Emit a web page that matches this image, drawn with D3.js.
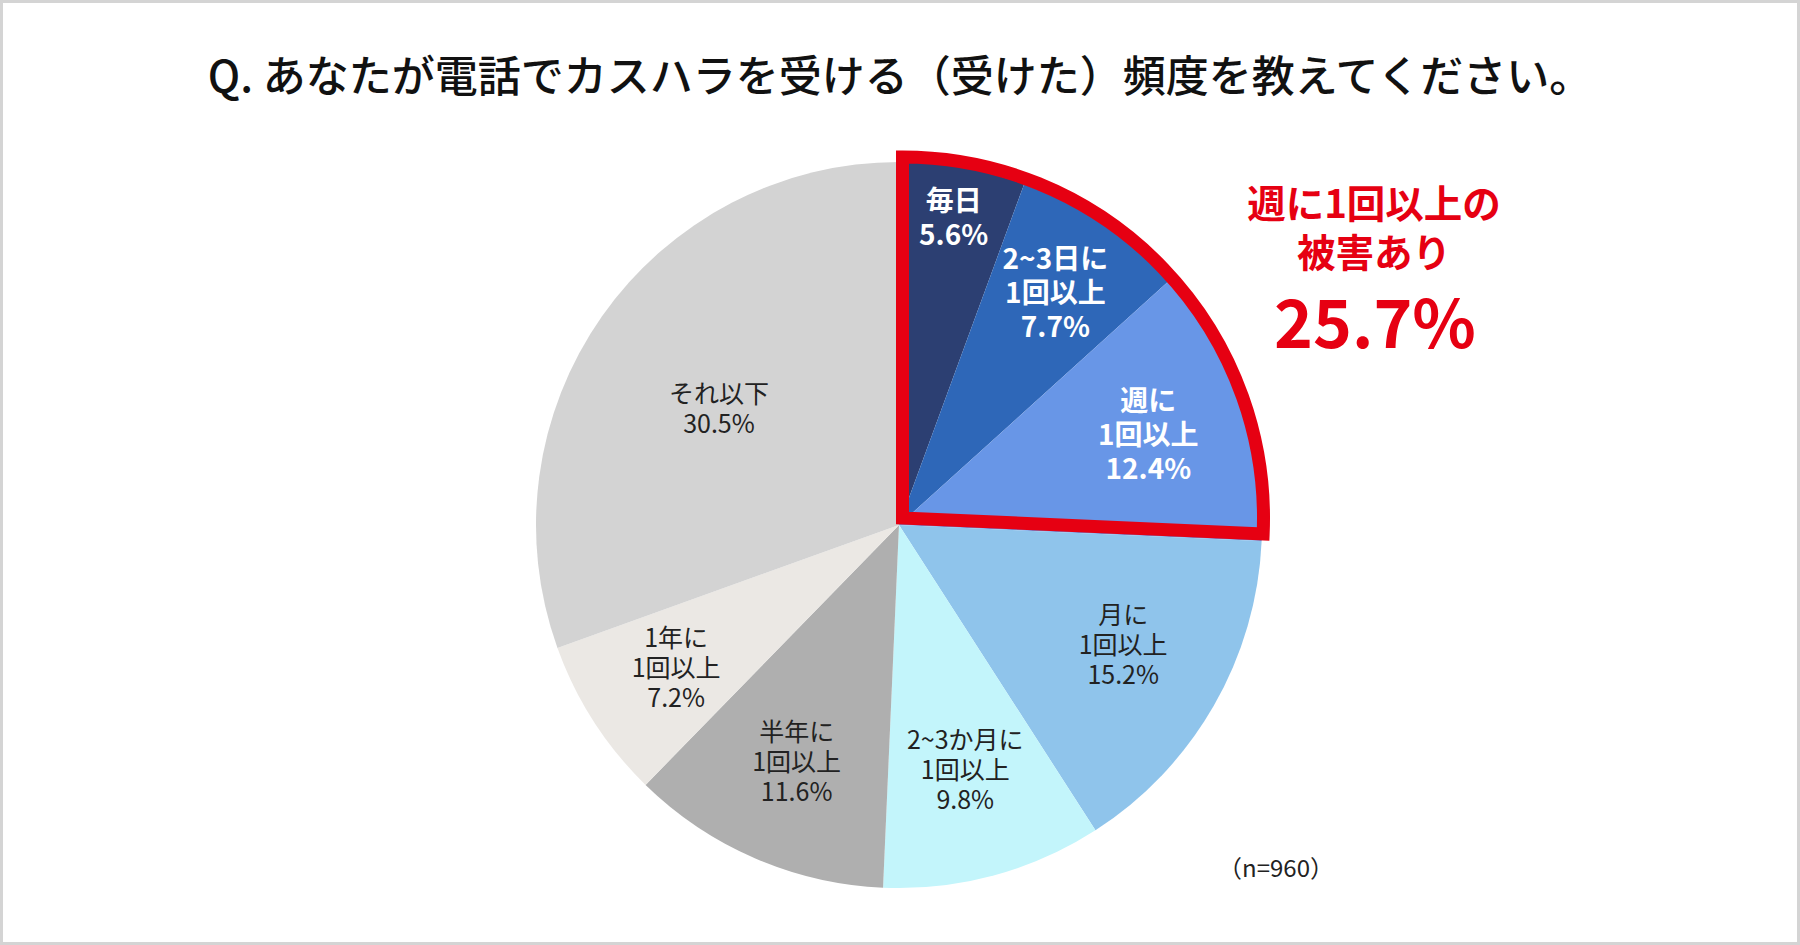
<!DOCTYPE html>
<html>
<head>
<meta charset="utf-8">
<script src="https://cdn.jsdelivr.net/npm/d3@7"></script>
<style>
  html, body { margin: 0; padding: 0; background: #fff; }
  svg { display: block; font-family: "Noto Sans CJK JP", "Noto Sans", sans-serif; }
</style>
</head>
<body>
<div id="chart"></div>
<script>
// data
const categories = [
  ["毎日"],
  ["2~3日に", "1回以上"],
  ["週に", "1回以上"],
  ["月に", "1回以上"],
  ["2~3か月に", "1回以上"],
  ["半年に", "1回以上"],
  ["1年に", "1回以上"],
  ["それ以下"]
];
const values = [5.6, 7.7, 12.4, 15.2, 9.8, 11.6, 7.2, 30.5];
const colors = ["#2c3f72", "#2e67b8", "#6896e7", "#8fc4eb", "#c3f5fb", "#afafaf", "#ebe8e4", "#d3d3d3"];
const whiteLabels = [true, true, true, false, false, false, false, false];
const title = "Q. あなたが電話でカスハラを受ける（受けた）頻度を教えてください。";
const highlightCount = 3;          // first three slices = weekly or more
const highlightLines = ["週に1回以上の", "被害あり"];
const sampleNote = "（n=960）";

const width = 1800, height = 945;
const cx = 899, cy = 525, radius = 363;
// label placement: share of radius, and a small angle nudge in degrees
const labelPos = [0.86, 0.77, 0.73, 0.70, 0.70, 0.71, 0.73, 0.59];
const labelTurn = [0, 0, 0, -1.8, 0, 0, 0, -2.3];

const svg = d3.select("#chart").append("svg")
  .attr("width", width).attr("height", height);

svg.append("rect")
  .attr("x", 1.5).attr("y", 1.5)
  .attr("width", width - 3).attr("height", height - 3)
  .attr("fill", "#fff").attr("stroke", "#d4d4d4").attr("stroke-width", 3);

svg.append("text")
  .attr("x", 900).attr("y", 92)
  .attr("text-anchor", "middle")
  .attr("font-size", 43).attr("font-weight", 500)
  .attr("fill", "#111")
  .text(title);

const pie = d3.pie().sort(null).value(d => d);
const arcs = pie(values);
const arc = d3.arc().innerRadius(0).outerRadius(radius);

const g = svg.append("g").attr("transform", `translate(${cx},${cy})`);

g.selectAll("path.slice")
  .data(arcs)
  .join("path")
  .attr("class", "slice")
  .attr("d", arc)
  .attr("fill", (d, i) => colors[i]);

// red outline round the weekly-or-more share
const total = d3.sum(values);
const hiShare = d3.sum(values.slice(0, highlightCount));
const hiArc = d3.arc().innerRadius(0).outerRadius(361)
  .startAngle(0).endAngle(hiShare / total * 2 * Math.PI);
g.append("path")
  .attr("transform", "translate(3.5,-7)")
  .attr("d", hiArc())
  .attr("fill", "none")
  .attr("stroke", "#e60012")
  .attr("stroke-width", 13)
  .attr("stroke-linejoin", "miter");

// slice labels
arcs.forEach((d, i) => {
  const bold = whiteLabels[i];
  const lineH = bold ? 34 : 30;
  const r = radius * labelPos[i];
  const a = (d.startAngle + d.endAngle) / 2 + labelTurn[i] * Math.PI / 180;
  const lx = r * Math.sin(a), ly = -r * Math.cos(a);
  const lines = categories[i].concat([values[i].toFixed(1) + "%"]);
  const t = g.append("text")
    .attr("text-anchor", "middle")
    .attr("font-size", bold ? 28 : 25)
    .attr("font-weight", bold ? 700 : 400)
    .attr("fill", bold ? "#fff" : "#222");
  lines.forEach((s, k) => {
    t.append("tspan")
      .attr("x", lx)
      .attr("y", ly + (k - (lines.length - 1) / 2) * lineH + (bold ? 10 : 9))
      .text(s);
  });
});

// callout on the right
const callout = svg.append("g").attr("fill", "#e60012").attr("font-weight", 700)
  .attr("text-anchor", "middle");
highlightLines.forEach((s, k) => {
  callout.append("text")
    .attr("x", 1374).attr("y", 218 + k * 49)
    .attr("font-size", 38.5)
    .text(s);
});
callout.append("text")
  .attr("x", 1375).attr("y", 348)
  .attr("font-size", 66)
  .text(d3.format(".1f")(hiShare) + "%");

svg.append("text")
  .attr("x", 1276).attr("y", 877)
  .attr("text-anchor", "middle")
  .attr("font-size", 24)
  .attr("fill", "#222")
  .text(sampleNote);
</script>
</body>
</html>
